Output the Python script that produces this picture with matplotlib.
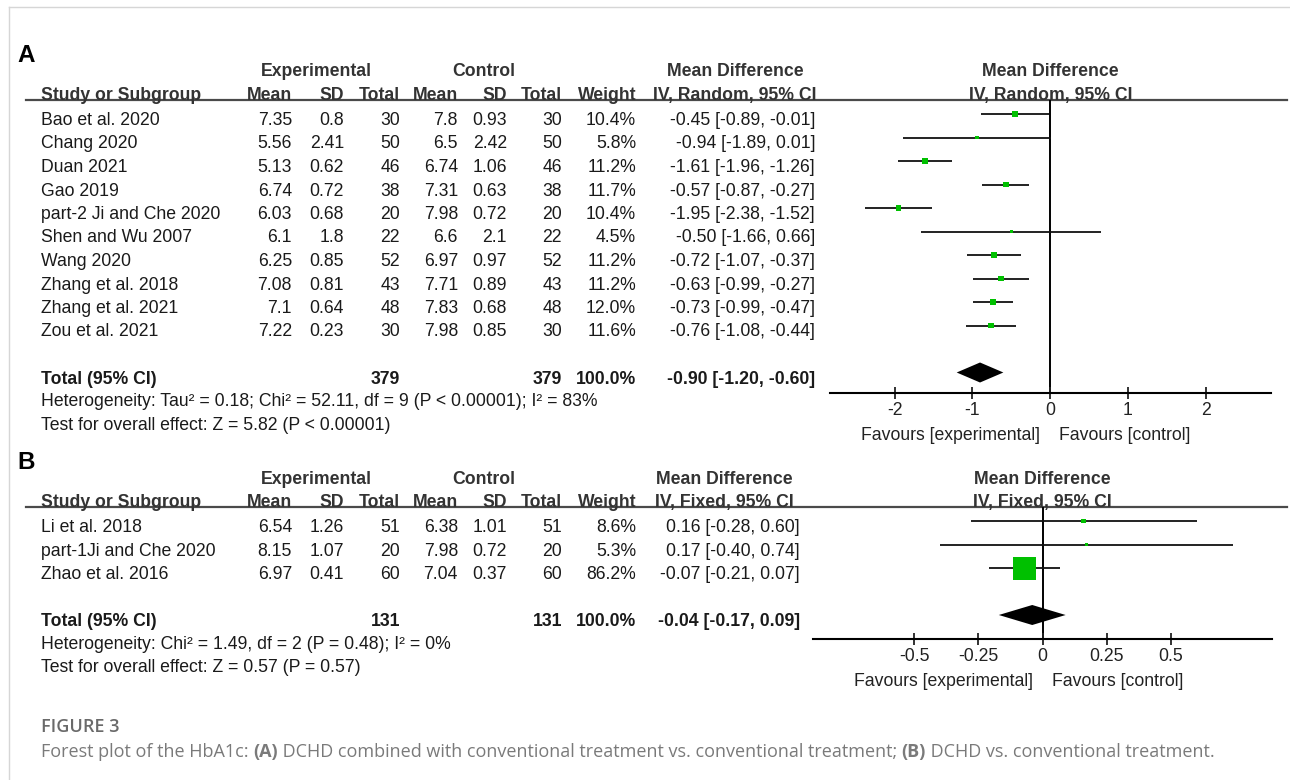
import matplotlib.pyplot as plt
from matplotlib.patches import Polygon

plt.rcParams['font.family'] = ['Liberation Sans', 'DejaVu Sans']
plt.rcParams['axes.unicode_minus'] = False

# (A) combined with conventional treatment
studies_a = ["Bao et al. 2020", "Chang 2020", "Duan 2021", "Gao 2019",
             "part-2 Ji and Che 2020", "Shen and Wu 2007", "Wang 2020",
             "Zhang et al. 2018", "Zhang et al. 2021", "Zou et al. 2021"]
exp_mean_a = [7.35, 5.56, 5.13, 6.74, 6.03, 6.1, 6.25, 7.08, 7.1, 7.22]
exp_sd_a = [0.8, 2.41, 0.62, 0.72, 0.68, 1.8, 0.85, 0.81, 0.64, 0.23]
exp_n_a = [30, 50, 46, 38, 20, 22, 52, 43, 48, 30]
ctl_mean_a = [7.8, 6.5, 6.74, 7.31, 7.98, 6.6, 6.97, 7.71, 7.83, 7.98]
ctl_sd_a = [0.93, 2.42, 1.06, 0.63, 0.72, 2.1, 0.97, 0.89, 0.68, 0.85]
ctl_n_a = [30, 50, 46, 38, 20, 22, 52, 43, 48, 30]
weight_a = [10.4, 5.8, 11.2, 11.7, 10.4, 4.5, 11.2, 11.2, 12.0, 11.6]
md_a = [-0.45, -0.94, -1.61, -0.57, -1.95, -0.50, -0.72, -0.63, -0.73, -0.76]
lo_a = [-0.89, -1.89, -1.96, -0.87, -2.38, -1.66, -1.07, -0.99, -0.99, -1.08]
hi_a = [-0.01, 0.01, -1.26, -0.27, -1.52, 0.66, -0.37, -0.27, -0.47, -0.44]
total_a = (379, 379, 100.0, -0.90, -1.20, -0.60)
het_a = "Heterogeneity: Tau² = 0.18; Chi² = 52.11, df = 9 (P < 0.00001); I² = 83%"
test_a = "Test for overall effect: Z = 5.82 (P < 0.00001)"
ticks_a = [-2, -1, 0, 1, 2]

# (B) alone vs conventional treatment
studies_b = ["Li et al. 2018", "part-1Ji and Che 2020", "Zhao et al. 2016"]
exp_mean_b = [6.54, 8.15, 6.97]
exp_sd_b = [1.26, 1.07, 0.41]
exp_n_b = [51, 20, 60]
ctl_mean_b = [6.38, 7.98, 7.04]
ctl_sd_b = [1.01, 0.72, 0.37]
ctl_n_b = [51, 20, 60]
weight_b = [8.6, 5.3, 86.2]
md_b = [0.16, 0.17, -0.07]
lo_b = [-0.28, -0.40, -0.21]
hi_b = [0.60, 0.74, 0.07]
total_b = (131, 131, 100.0, -0.04, -0.17, 0.09)
het_b = "Heterogeneity: Chi² = 1.49, df = 2 (P = 0.48); I² = 0%"
test_b = "Test for overall effect: Z = 0.57 (P = 0.57)"
ticks_b = [-0.5, -0.25, 0, 0.25, 0.5]

W, H = 1290, 780
FS = 12.7
STEP = 23.5
HEAD = '#333333'
BODY = '#1a1a1a'
GREEN = '#00c000'

fig = plt.figure(figsize=(W / 100, H / 100), dpi=100)
bg = fig.add_axes([0, 0, 1, 1])
bg.set_xlim(0, W)
bg.set_ylim(H, 0)
bg.axis('off')

# light page frame
bg.plot([9, W], [7, 7], color='#d6d6d6', lw=1)
bg.plot([9, 9], [7, H], color='#d6d6d6', lw=1)


def txt(x, y, s, ha='left', bold=False, color=BODY, size=FS):
    bg.text(x, y, s, ha=ha, va='center_baseline', fontsize=size, color=color,
            fontweight='bold' if bold else 'normal')


def draw_panel(letter, rule_y, studies, exp_mean, exp_sd, exp_n, ctl_mean, ctl_sd,
               ctl_n, weight, md, lo, hi, total, het, test, method, ci_right,
               md_head_x, box, zero_px, scale, axis_y, ticks):
    cols = [292, 344, 400, 458, 507, 562, 636]

    txt(17, rule_y - 47, letter, bold=True, color='black', size=17.5)
    txt(316, rule_y - 30, "Experimental", ha='center', bold=True, color=HEAD)
    txt(484, rule_y - 30, "Control", ha='center', bold=True, color=HEAD)
    txt(md_head_x, rule_y - 30, "Mean Difference", ha='center', bold=True, color=HEAD)
    txt((box[0] + box[1]) / 2, rule_y - 30, "Mean Difference", ha='center',
        bold=True, color=HEAD)

    hy = rule_y - 6.5
    txt(41, hy, "Study or Subgroup", bold=True, color=HEAD)
    for x, s in zip(cols, ["Mean", "SD", "Total", "Mean", "SD", "Total", "Weight"]):
        txt(x, hy, s, ha='right', bold=True, color=HEAD)
    txt(md_head_x, hy, method, ha='center', bold=True, color=HEAD)
    txt((box[0] + box[1]) / 2, hy, method, ha='center', bold=True, color=HEAD)
    bg.plot([26, 1287], [rule_y, rule_y], color='#4a4a4a', lw=1.6)

    first = rule_y + 18.5
    for i, name in enumerate(studies):
        y = first + i * STEP
        vals = [f"{exp_mean[i]:g}", f"{exp_sd[i]:g}", f"{exp_n[i]}",
                f"{ctl_mean[i]:g}", f"{ctl_sd[i]:g}", f"{ctl_n[i]}", f"{weight[i]:.1f}%"]
        txt(41, y, name)
        for x, s in zip(cols, vals):
            txt(x, y, s, ha='right')
        txt(ci_right, y, f"{md[i]:.2f} [{lo[i]:.2f}, {hi[i]:.2f}]", ha='right')

    n = len(studies)
    ty = first + (n + 1) * STEP
    n_e, n_c, w_t, m_t, lo_t, hi_t = total
    txt(41, ty, "Total (95% CI)", bold=True)
    txt(cols[2], ty, f"{n_e}", ha='right', bold=True)
    txt(cols[5], ty, f"{n_c}", ha='right', bold=True)
    txt(cols[6], ty, f"{w_t:.1f}%", ha='right', bold=True)
    txt(ci_right, ty, f"{m_t:.2f} [{lo_t:.2f}, {hi_t:.2f}]", ha='right', bold=True)
    txt(41, ty + 23, het)
    txt(41, ty + 46, test)

    # forest plot, rows indexed from 0, markers sit a little above the text line
    mark0 = first - 4.5
    left, right = box
    ax = fig.add_axes([left / W, 1 - axis_y / H, (right - left) / W, (axis_y - rule_y) / H])
    ax.set_xlim((left - zero_px) / scale, (right - zero_px) / scale)
    ax.set_ylim((axis_y - mark0) / STEP, (rule_y - mark0) / STEP)
    ax.patch.set_alpha(0)
    for s in ['top', 'left', 'right']:
        ax.spines[s].set_visible(False)
    ax.spines['bottom'].set_linewidth(1.5)
    ax.set_yticks([])
    ax.set_xticks(ticks)
    ax.set_xticklabels([f"{t:g}" for t in ticks])
    ax.tick_params(axis='x', direction='inout', length=8.6, width=1.3,
                   labelsize=FS, pad=2.5, colors='#222222')

    ax.axvline(0, color='black', lw=1.4, zorder=1)
    rows = list(range(n))
    ax.hlines(rows, lo, hi, color='#111111', lw=1.3, zorder=2)
    sizes = [(23 * (w / 86.2) ** 0.69 * 0.72) ** 2 for w in weight]
    ax.scatter(md, rows, s=sizes, marker='s', color=GREEN, linewidths=0, zorder=3)

    dy = 10 / STEP
    yt = n + 1
    ax.add_patch(Polygon([(lo_t, yt), (m_t, yt - dy), (hi_t, yt), (m_t, yt + dy)],
                         closed=True, color='black', lw=0, zorder=3))

    txt(zero_px - 10, axis_y + 40, "Favours [experimental]", ha='right', color='#222222')
    txt(zero_px + 9, axis_y + 40, "Favours [control]", color='#222222')


draw_panel("A", 100, studies_a, exp_mean_a, exp_sd_a, exp_n_a, ctl_mean_a, ctl_sd_a,
           ctl_n_a, weight_a, md_a, lo_a, hi_a, total_a, het_a, test_a,
           "IV, Random, 95% CI", 815, 735, (830, 1271), 1050, 77.75, 393, ticks_a)
draw_panel("B", 507, studies_b, exp_mean_b, exp_sd_b, exp_n_b, ctl_mean_b, ctl_sd_b,
           ctl_n_b, weight_b, md_b, lo_b, hi_b, total_b, het_b, test_b,
           "IV, Fixed, 95% CI", 800, 724, (813, 1272), 1042.5, 257, 639, ticks_b)

# caption
CAP = ['Open Sans', 'DejaVu Sans']
bg.text(41, 725, "FIGURE 3", fontsize=13, color='#6a6a6a', fontweight='semibold',
        family=CAP, va='center_baseline')
pieces = [("Forest plot of the HbA1c: ", False), ("(A)", True),
          (" DCHD combined with conventional treatment vs. conventional treatment; ", False),
          ("(B)", True), (" DCHD vs. conventional treatment.", False)]
renderer = fig.canvas.get_renderer()
x = 41
for s, b in pieces:
    t = bg.text(x, 750, s, fontsize=13, color='#7a7a7a', family=CAP,
                fontweight='bold' if b else 'normal', va='center_baseline')
    x += t.get_window_extent(renderer).width

fig.savefig("out.png", dpi=100)
